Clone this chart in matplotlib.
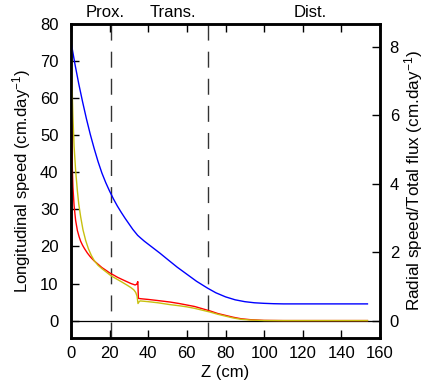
import matplotlib
matplotlib.use("Agg")
import matplotlib.pyplot as plt
from matplotlib.transforms import blended_transform_factory

plt.rcParams['font.family'] = ['Liberation Sans', 'DejaVu Sans']
plt.rcParams['mathtext.default'] = 'regular'

# Longitudinal speed profile (blue)
z_long = [0, 2, 4, 6, 8, 10, 12, 14, 16, 18, 20, 22, 24, 26, 28, 30, 32, 34.5,
          36, 38, 40, 43, 46, 50, 55, 60, 65, 70.7, 75, 80, 85, 90, 95, 100,
          105, 110, 153.5]
v_long = [75.2, 69.3, 63.9, 59.0, 54.4, 50.2, 46.4, 42.9, 39.8, 37.2, 34.9, 32.8,
          30.9, 29.2, 27.6, 26.1, 24.6, 23.0, 22.3, 21.4, 20.6, 19.4, 18.2, 16.5,
          14.4, 12.5, 10.6, 8.75, 7.5, 6.4, 5.6, 5.1, 4.8, 4.65, 4.55, 4.5, 4.5]

# Radial speed (red)
z_rad = [0.2, 0.4, 0.7, 1.0, 1.6, 2.4, 3.3, 4.2, 5, 6, 7, 8.5, 10, 12, 14, 16,
         18, 20.2, 22, 24, 26, 28.9, 31, 33.2, 34.0, 34.6, 34.9, 36, 40, 45,
         51.3, 56, 60, 64, 68, 72, 76, 80, 84, 88, 92.7, 100, 110, 153.5]
v_rad = [65, 52, 41, 36, 31, 27, 24.3, 22.6, 21.4, 20.3, 19.4, 18.2, 17.2, 16.1,
         15.2, 14.3, 13.6, 12.8, 12.3, 11.7, 11.2, 10.5, 10.0, 9.6, 9.8, 10.5,
         6.0, 5.9, 5.7, 5.4, 5.0, 4.6, 4.2, 3.8, 3.2, 2.6, 1.9, 1.4, 0.9, 0.5,
         0.25, 0.05, 0, 0]

# Total flux (yellow)
z_flux = [0.2, 0.5, 1, 1.6, 2.4, 3.3, 4, 5, 6.2, 7.6, 9, 10.5, 12, 14, 16, 18,
          20.2, 22, 24, 26, 28.9, 31, 32.5, 33.5, 34.2, 34.7, 35.3, 35.8, 38, 40,
          45, 51.3, 56, 60, 64, 68, 72, 76, 80, 84, 88, 92.7, 100, 110, 153.5]
v_flux = [75, 64, 55, 47, 40.5, 35, 31.5, 28, 24.5, 21.6, 19.4, 17.6, 16.2, 14.9,
          14.0, 13.2, 12.3, 11.7, 11.1, 10.5, 9.6, 8.9, 8.3, 7.6, 6.6, 4.6, 5.1,
          5.3, 5.2, 5.1, 4.8, 4.3, 4.0, 3.7, 3.3, 2.8, 2.3, 1.7, 1.2, 0.7, 0.35,
          0.15, 0.02, 0, 0]

# Zone boundaries and zone names
zone_bounds = [20.6, 70.7]
zone_names = ["Prox.", "Trans.", "Dist."]
zone_label_x = [17.6, 52.6, 123.6]

x_ticks = [0, 20, 40, 60, 80, 100, 120, 140, 160]
y_ticks = [0, 10, 20, 30, 40, 50, 60, 70, 80]
y2_ticks = [0, 2, 4, 6, 8]

fig = plt.figure(figsize=(4.28, 3.85), dpi=100)
ax = fig.add_axes([71 / 428, 1 - 338 / 385, 309 / 428, 314 / 385])

ax.axhline(0, color='black', lw=0.9, zorder=1)
for zb in zone_bounds:
    ax.axvline(zb, color='#333333', lw=1.0, dashes=(11.5, 8), zorder=1)

ax.plot(z_long, v_long, color='#0000ff', lw=1.0, zorder=3)
ax.plot(z_rad, v_rad, color='#ff0000', lw=1.0, zorder=3)
ax.plot(z_flux, v_flux, color='#c8c010', lw=1.0, zorder=4)

ax.set_xlim(0, 160)
ax.set_ylim(-4.7, 80)
ax.set_xticks(x_ticks)
ax.set_yticks(y_ticks)
ax.tick_params(axis='both', direction='in', length=6, width=1, labelsize=12)
ax.tick_params(axis='x', top=True, pad=6)
ax.tick_params(axis='y', pad=9)
for sp in ax.spines.values():
    sp.set_linewidth(1.8)

ax.set_xlabel("Z (cm)", fontsize=12, labelpad=3)
ax.set_ylabel("Longitudinal speed (cm.day$^{-1}$)", fontsize=12, labelpad=5)

trans = blended_transform_factory(ax.transData, ax.transAxes)
for name, xl in zip(zone_names, zone_label_x):
    ax.text(xl, 1.012, name, transform=trans, ha='center', va='bottom',
            fontsize=12)

# Secondary scale for radial speed / total flux
ax2 = ax.twinx()
scale = 8 / 73.8
ax2.set_ylim(-4.7 * scale, 80 * scale)
ax2.set_yticks(y2_ticks)
ax2.tick_params(axis='y', direction='in', length=6, width=1, labelsize=12, pad=7)
for sp in ax2.spines.values():
    sp.set_linewidth(1.8)
ax2.set_ylabel("Radial speed/Total flux (cm.day$^{-1}$)", fontsize=12.3,
               labelpad=2)

fig.savefig("out.png", dpi=100)
